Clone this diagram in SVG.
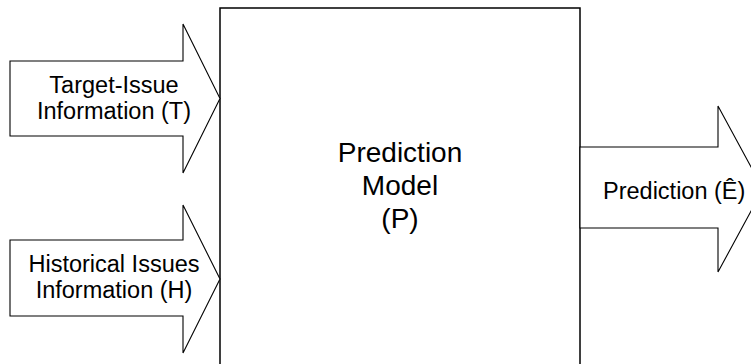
<svg xmlns="http://www.w3.org/2000/svg" width="751" height="364" viewBox="0 0 751 364">
  <style>
    .shape { fill: #ffffff; stroke: #000000; stroke-width: 1.1; stroke-linejoin: miter; }
    .box { fill: #ffffff; stroke: #000000; stroke-width: 1.5; }
    .label { font-family: "Liberation Sans", Arial, sans-serif; font-size: 23.5px; fill: #000000; }
    .big { font-size: 28px; }
  </style>
  <rect width="751" height="364" fill="#ffffff"/>

  <!-- central model block -->
  <g id="model">
    <rect class="box" x="220" y="8" width="360" height="370"/>
    <text class="label big" text-anchor="middle" x="400" y="162">Prediction</text>
    <text class="label big" text-anchor="middle" x="400" y="195">Model</text>
    <text class="label big" text-anchor="middle" x="400" y="228">(P)</text>
  </g>

  <!-- block arrows feeding into and out of the model -->
  <g id="connectors">
    <g id="input-target">
      <polygon class="shape" points="10,61 183,61 183,24 220,98.5 183,173 183,136 10,136"/>
      <text class="label" text-anchor="middle" x="114" y="93">Target-Issue</text>
      <text class="label" text-anchor="middle" x="114" y="119">Information (T)</text>
    </g>
    <g id="input-history">
      <polygon class="shape" points="10,240 183,240 183,205 220,279 183,353 183,316 10,316"/>
      <text class="label" text-anchor="middle" x="114" y="272">Historical Issues</text>
      <text class="label" text-anchor="middle" x="114" y="298">Information (H)</text>
    </g>
    <g id="output-prediction">
      <polygon class="shape" points="580,147 718,147 718,106 763,189 718,272 718,228 580,228"/>
      <text class="label" x="603" y="199">Prediction (Ê)</text>
    </g>
  </g>
</svg>
